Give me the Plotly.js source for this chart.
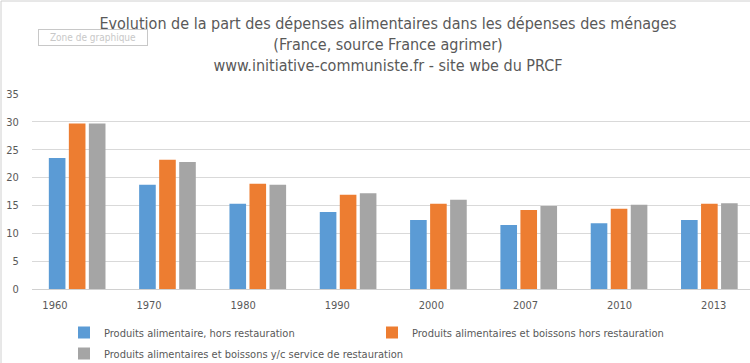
<!DOCTYPE html>
<html>
<head>
<meta charset="utf-8">
<script src="https://cdn.plot.ly/plotly-3.0.1.min.js"></script>
<style>html,body{margin:0;padding:0;background:#fff;}#chart{width:750px;height:363px;}</style>
</head>
<body>
<div id="chart"></div>
<script>
const years = ['1960','1970','1980','1990','2000','2007','2010','2013'];
const seriesNames = [
  'Produits alimentaire, hors restauration',
  'Produits alimentaires et boissons hors restauration',
  'Produits alimentaires et boissons y/c service de restauration'
];
const foodExclRestaurant = [23.5, 18.7, 15.3, 13.8, 12.4, 11.5, 11.8, 12.4];
const foodDrinkExclRestaurant = [29.7, 23.2, 18.9, 16.9, 15.3, 14.2, 14.4, 15.3];
const foodDrinkInclRestaurant = [29.7, 22.8, 18.7, 17.2, 16.0, 14.9, 15.1, 15.4];
const yTicks = [0, 5, 10, 15, 20, 25, 30, 35];
const colors = ['#5B9BD5', '#ED7D31', '#A5A5A5'];

const FONT = '"DejaVu Sans Condensed", "Liberation Sans Narrow", Arial, sans-serif';
const TXT = '#595959';

const traces = [
  {type:'bar', x: years, y: foodExclRestaurant, name: seriesNames[0], marker:{color:colors[0]}, legend:'legend'},
  {type:'bar', x: years, y: foodDrinkExclRestaurant, name: seriesNames[1], marker:{color:colors[1]}, legend:'legend'},
  {type:'bar', x: years, y: foodDrinkInclRestaurant, name: seriesNames[2], marker:{color:colors[2]}, legend:'legend2'},
  {type:'scatter', x: years, y: foodExclRestaurant, xaxis:'x2', mode:'markers', marker:{opacity:0}, showlegend:false, hoverinfo:'skip'}
];

const layout = {
  width: 750, height: 363,
  margin: {l: 32, r: 0, t: 94, b: 74},
  paper_bgcolor: '#fff', plot_bgcolor: '#fff',
  font: {family: FONT, color: TXT, size: 11},
  title: {
    text: 'Evolution de la part des dépenses alimentaires dans les dépenses des ménages<br>(France, source France agrimer)<br>www.initiative-communiste.fr - site wbe du PRCF',
    x: 388/750, xref: 'container', xanchor: 'center',
    y: 1 - 29/363, yref: 'container', yanchor: 'top',
    font: {family: FONT, size: 16, color: TXT}
  },
  barmode: 'group', bargap: 0.335, bargroupgap: 0.17,
  xaxis: {
    type: 'category', range: [-0.5, 7.45],
    showticklabels: false, showgrid: false, zeroline: false,
    showline: true, linecolor: '#D0D0D0', linewidth: 1, ticks: ''
  },
  xaxis2: {
    type: 'category', overlaying: 'x', anchor: 'y', side: 'bottom',
    range: [-0.244, 7.386],
    showgrid: false, zeroline: false, showline: false,
    ticks: 'outside', ticklen: 6, tickcolor: 'rgba(0,0,0,0)',
    tickfont: {family: FONT, size: 11, color: TXT}
  },
  yaxis: {
    range: [0, 35], tickvals: yTicks, ticktext: yTicks.map(String),
    showgrid: true, gridcolor: '#D9D9D9', gridwidth: 1,
    zeroline: false, showline: false,
    ticks: 'outside', ticklen: 10, tickcolor: 'rgba(0,0,0,0)',
    tickfont: {family: FONT, size: 11, color: TXT}
  },
  legend: {
    orientation: 'h', x: 64/750, xref: 'container', xanchor: 'left',
    y: 1 - 318/363, yref: 'container', yanchor: 'top',
    entrywidth: 263, entrywidthmode: 'pixels',
    font: {family: FONT, size: 11, color: TXT}, bgcolor: 'rgba(0,0,0,0)'
  },
  legend2: {
    orientation: 'h', x: 64/750, xref: 'container', xanchor: 'left',
    y: 1 - 339/363, yref: 'container', yanchor: 'top',
    font: {family: FONT, size: 11, color: TXT}, bgcolor: 'rgba(0,0,0,0)'
  },
  annotations: [{
    text: 'Zone de graphique', xref: 'paper', yref: 'paper',
    x: (38-32)/718, xanchor: 'left', y: (289-38)/195, yanchor: 'middle',
    showarrow: false, font: {family: FONT, size: 10, color: '#C8C8C8'},
    bordercolor: '#C8C8C8', borderwidth: 1, borderpad: 2, bgcolor: '#fff',
    width: 104, align: 'center'
  }],
  shapes: [
    {type:'line', xref:'paper', yref:'paper', x0: -31/718, x1: -31/718, y0: -74/195, y1: 288/195, line:{color:'#D0D0D0', width:1}},
    {type:'line', xref:'paper', yref:'paper', x0: -31/718, x1: 1, y0: 288/195, y1: 288/195, line:{color:'#D0D0D0', width:1}}
  ]
};

Plotly.newPlot('chart', traces, layout, {displayModeBar: false, staticPlot: true});
</script>
</body>
</html>
